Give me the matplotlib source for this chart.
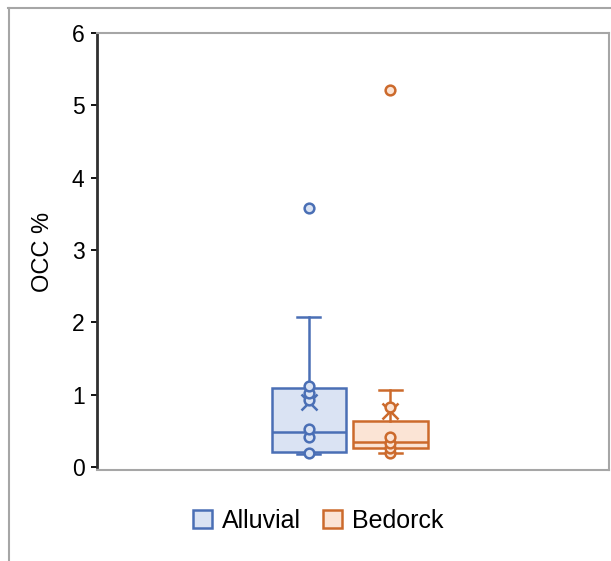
import matplotlib
matplotlib.use("Agg")
import matplotlib.pyplot as plt
from matplotlib.lines import Line2D
from matplotlib.patches import Patch

plt.rcParams['font.family'] = ['Liberation Sans', 'DejaVu Sans']

# Group names and summary values (OCC %)
groups = ["Alluvial", "Bedorck"]
q1 = [0.21, 0.26]
medians = [0.48, 0.34]
q3 = [1.09, 0.63]
whisker_low = [0.18, 0.19]
whisker_high = [2.08, 1.06]
means = [0.90, 0.78]
outliers = [[3.58], [5.21]]
inner_points = [[0.20, 0.42, 0.53, 0.93, 1.02, 1.12],
                [0.20, 0.26, 0.33, 0.42, 0.83]]

edge_colors = ["#4A6FB5", "#CC6A2C"]
fill_colors = ["#DAE3F3", "#FBE4D5"]
positions = [0.414, 0.573]
box_width = 0.146

fig = plt.figure(figsize=(6.11, 5.61), dpi=100)
W, H = 611, 561
ax = fig.add_axes([97 / W, 91 / H, 512 / W, 437 / H])

for i in range(len(groups)):
    stats = [dict(med=medians[i], q1=q1[i], q3=q3[i], whislo=whisker_low[i],
                  whishi=whisker_high[i], mean=means[i], fliers=outliers[i],
                  label=groups[i])]
    ec, fc = edge_colors[i], fill_colors[i]
    ax.bxp(stats, positions=[positions[i]], widths=box_width, patch_artist=True,
           showmeans=True, capwidths=0.045, manage_ticks=False,
           boxprops=dict(facecolor=fc, edgecolor=ec, linewidth=1.8),
           medianprops=dict(color=ec, linewidth=1.8),
           whiskerprops=dict(color=ec, linewidth=1.8),
           capprops=dict(color=ec, linewidth=1.8),
           meanprops=dict(marker='x', markeredgecolor=ec, markersize=11,
                          markeredgewidth=1.8),
           flierprops=dict(marker='o', markerfacecolor=fc, markeredgecolor=ec,
                           markersize=7, markeredgewidth=1.8),
           zorder=2)
    ax.plot([positions[i]] * len(inner_points[i]), inner_points[i], 'o',
            markerfacecolor=fc, markeredgecolor=ec, markersize=7,
            markeredgewidth=1.8, zorder=3)

ax.set_xlim(0, 1)
ax.set_ylim(-0.0415, 6)
ax.set_yticks(range(0, 7))
ax.set_xticks([])
ax.tick_params(axis='y', direction='out', length=4, width=1.3, colors='black',
               labelsize=16.5, pad=5)
ax.set_ylabel("OCC %", fontsize=17, labelpad=13)

ax.spines['left'].set_bounds(0, 6)
ax.spines['left'].set_color('#303030')
ax.spines['left'].set_linewidth(2)
for side in ['top', 'right', 'bottom']:
    ax.spines[side].set_color('#A6A6A6')
    ax.spines[side].set_linewidth(1.5)

# outer chart frame (top and left edges)
fig.add_artist(Line2D([8 / W, 1], [1 - 8 / H, 1 - 8 / H], color='#A6A6A6', lw=1.5))
fig.add_artist(Line2D([9 / W, 9 / W], [0, 1 - 8 / H], color='#A6A6A6', lw=1.5))

handles = [Patch(facecolor=fill_colors[i], edgecolor=edge_colors[i], linewidth=1.8)
           for i in range(len(groups))]
fig.legend(handles, groups, loc='center', bbox_to_anchor=(318 / W, 1 - 521 / H),
           ncol=2, frameon=False, fontsize=18, handlelength=0.75, handleheight=0.75,
           handletextpad=0.4, columnspacing=0.9)

fig.savefig("out.png", dpi=100)
